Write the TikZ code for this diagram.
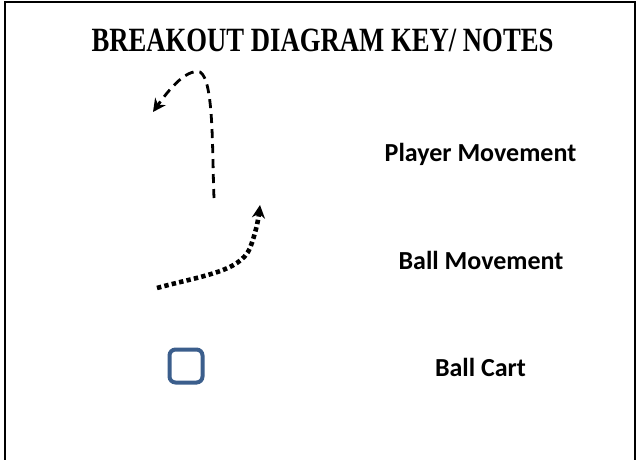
\documentclass[tikz,border=0pt]{standalone}
\usepackage{fontspec}
\setmainfont{Liberation Serif}
\newfontfamily\lblfont{Carlito}
\usetikzlibrary{arrows.meta}
\definecolor{cartblue}{HTML}{3B5E8C}
\tikzset{
  lbl/.style={font=\lblfont\bfseries\fontsize{26}{30}\selectfont, anchor=base, inner sep=0pt},
  playermv/.style={line width=2.8pt, dash pattern=on 9pt off 6pt, -{Stealth[length=13pt,width=13pt]}},
  ballmv/.style={line width=4.6pt, dash pattern=on 4.4pt off 3.2pt, -{Stealth[length=13pt,width=13pt]}},
  cart/.style={draw=cartblue, line width=4pt, rounded corners=6pt, minimum width=33pt, minimum height=33pt}
}
\begin{document}
\begin{tikzpicture}[x=1pt,y=-1pt]
\useasboundingbox (0,0) rectangle (637,459);
\draw[line width=2.2pt] (5,460) -- (5,2) -- (635,2) -- (635,460);
\node[font=\bfseries\fontsize{34}{40}\selectfont, xscale=0.785, anchor=base, inner sep=0pt] (title) at (322.5,51) {BREAKOUT DIAGRAM KEY/ NOTES};
% player movement
\coordinate (p0) at (214,198);
\coordinate (p1) at (153,112);
\draw[playermv] (p0) .. controls (212,150) and (214,80) .. (200,72) .. controls (185,68) and (165,95) .. (p1);
\node[lbl] (plabel) at (480.5,161) {Player Movement};
% ball movement
\coordinate (b0) at (157,288);
\coordinate (b1) at (260,205);
\draw[ballmv] (b0) .. controls (200,276) and (240,272) .. (250,248) .. controls (255,235) and (258,222) .. (b1);
\node[lbl] (blabel) at (481,269.5) {Ball Movement};
% ball cart
\node[cart] (cart) at (186,366) {};
\node[lbl] (clabel) at (480.5,376) {Ball Cart};
\end{tikzpicture}
\end{document}
